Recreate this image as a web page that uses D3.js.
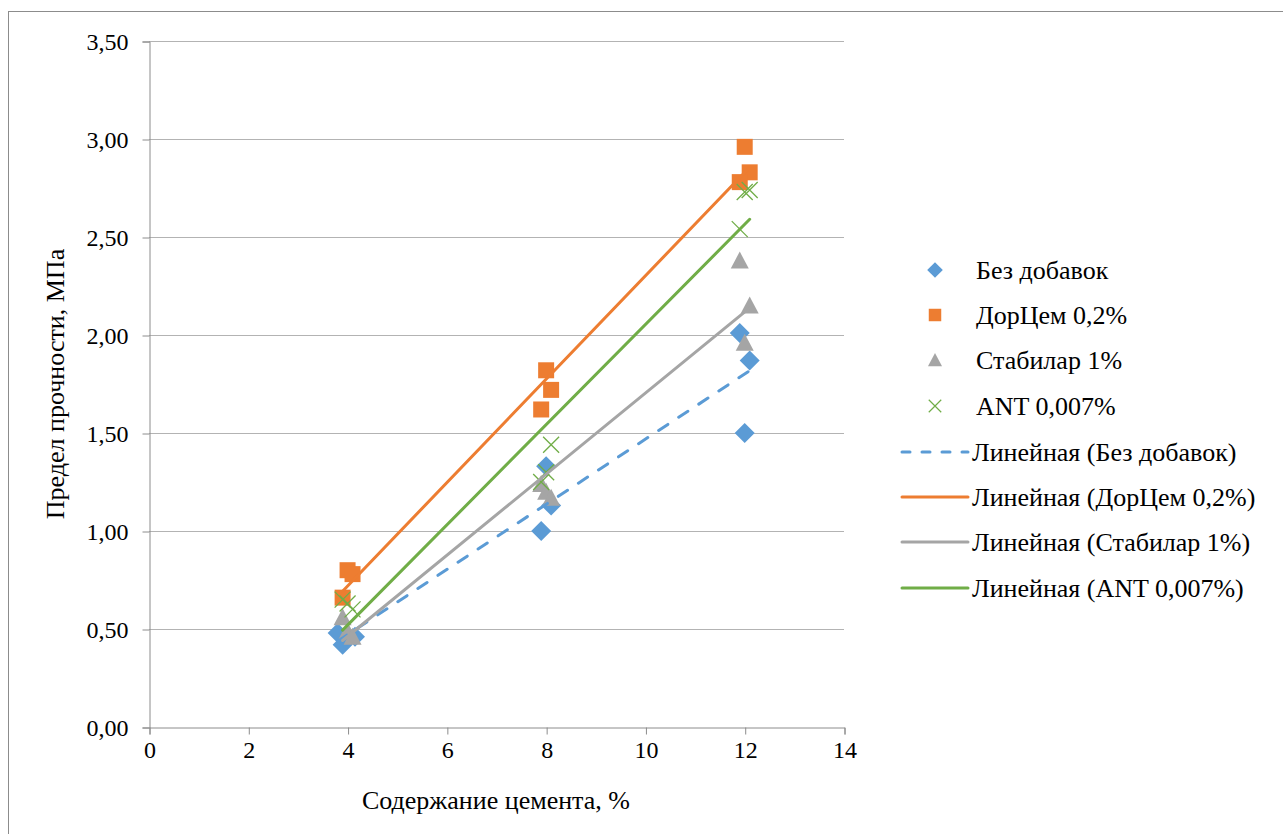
<!DOCTYPE html>
<html>
<head>
<meta charset="utf-8">
<script src="https://cdn.jsdelivr.net/npm/d3@7"></script>
<style>
body { margin: 0; background: #fff; }
svg text { font-family: "Liberation Serif", "Times New Roman", "DejaVu Serif", serif; }
</style>
</head>
<body>
<div id="chart"></div>
<script>
const seriesNames = ['Без добавок', 'ДорЦем 0,2%', 'Стабилар 1%', 'ANT 0,007%']
const seriesColors = ['#5b9bd5', '#ed7d31', '#a5a5a5', '#70ad47']
const seriesSymbols = ['diamond', 'square', 'triangle', 'cross']

const xBez = [3.8, 3.9, 4.15, 8.0, 8.1, 7.9, 11.9, 12.1, 12.0]
const yBez = [0.48, 0.42, 0.46, 1.33, 1.13, 1.00, 2.01, 1.87, 1.50]
const xDor = [3.9, 4.0, 4.1, 8.0, 8.1, 7.9, 12.0, 12.1, 11.9]
const yDor = [0.66, 0.80, 0.78, 1.82, 1.72, 1.62, 2.96, 2.83, 2.78]
const xStab = [3.9, 4.0, 4.1, 7.9, 8.0, 8.1, 11.9, 12.1, 12.0]
const yStab = [0.56, 0.49, 0.46, 1.24, 1.20, 1.17, 2.38, 2.15, 1.96]
const xAnt = [3.9, 4.0, 4.1, 8.1, 7.9, 8.0, 11.9, 12.0, 12.1]
const yAnt = [0.65, 0.63, 0.60, 1.44, 1.25, 1.30, 2.54, 2.73, 2.74]

const xTicks = [0, 2, 4, 6, 8, 10, 12, 14]
const yTicks = [0, 0.5, 1, 1.5, 2, 2.5, 3, 3.5]

const series = [[xBez, yBez], [xDor, yDor], [xStab, yStab], [xAnt, yAnt]].map((s, i) => ({
    name: seriesNames[i], color: seriesColors[i], symbol: seriesSymbols[i],
    points: s[0].map((x, j) => ({ x: x, y: s[1][j] }))
}))

const width = 1283
const height = 834
const dim = { left: 149, right: 844, top: 41, bottom: 727 }
const tickFont = '24px'
const labelFont = '26px'

const svg = d3.select('#chart').append('svg')
    .attr('width', width).attr('height', height)

svg.append('rect')
    .attr('x', 8.5).attr('y', 11.5)
    .attr('width', 1300).attr('height', 900)
    .attr('fill', 'none').attr('stroke', '#8c8c8c').attr('stroke-width', 1)

const x = d3.scaleLinear().domain([0, 14]).range([dim.left, dim.right])
const y = d3.scaleLinear().domain([0, 3.5]).range([dim.bottom, dim.top])
const fmt = v => d3.format('.2f')(v).replace('.', ',')

// grid
svg.append('g').selectAll('line')
    .data(yTicks.filter(d => d > 0))
    .join('line')
    .attr('x1', dim.left).attr('x2', dim.right)
    .attr('y1', d => Math.round(y(d)) + 0.5).attr('y2', d => Math.round(y(d)) + 0.5)
    .attr('stroke', '#b3b3b3').attr('stroke-width', 1)

const yAxis = svg.append('g')
    .attr('transform', `translate(${dim.left + 0.5},0.5)`)
    .call(d3.axisLeft(y).tickValues(yTicks).tickFormat(fmt).tickSize(7).tickPadding(14))
const xAxis = svg.append('g')
    .attr('transform', `translate(0.5,${dim.bottom + 0.5})`)
    .call(d3.axisBottom(x).tickValues(xTicks).tickFormat(d => d).tickSize(7).tickPadding(6))
for (const ax of [xAxis, yAxis]) {
    ax.attr('font-family', null).attr('font-size', null)
    ax.select('.domain').attr('stroke', '#8c8c8c')
    ax.selectAll('.tick line').attr('stroke', '#8c8c8c')
    ax.selectAll('.tick text')
        .attr('fill', '#000')
        .style('font-size', tickFont)
}

svg.append('text')
    .attr('x', 496).attr('y', 809)
    .attr('text-anchor', 'middle')
    .style('font-size', labelFont)
    .text('Содержание цемента, %')
svg.append('text')
    .attr('transform', 'translate(64,384) rotate(-90)')
    .attr('text-anchor', 'middle')
    .style('font-size', labelFont)
    .text('Предел прочности, МПа')

function symbolPath(type) {
    if (type == 'diamond') return 'M0,-10L10,0L0,10L-10,0Z'
    if (type == 'square') return 'M-8,-8H8V8H-8Z'
    if (type == 'triangle') return 'M0,-9L9,8H-9Z'
    return 'M-8,-8L8,8M8,-8L-8,8'
}

// markers
series.forEach(s => {
    svg.append('g').selectAll('path')
        .data(s.points)
        .join('path')
        .attr('transform', d => `translate(${x(d.x)},${y(d.y)})`)
        .attr('d', symbolPath(s.symbol))
        .attr('fill', s.symbol == 'cross' ? 'none' : s.color)
        .attr('stroke', s.symbol == 'cross' ? s.color : 'none')
        .attr('stroke-width', 1.3)
})

// linear trendlines (least squares)
function fit(points) {
    const mx = d3.mean(points, d => d.x)
    const my = d3.mean(points, d => d.y)
    const b = d3.sum(points, d => (d.x - mx) * (d.y - my)) / d3.sum(points, d => (d.x - mx) ** 2)
    const a = my - b * mx
    const ext = d3.extent(points, d => d.x)
    return ext.map(v => ({ x: v, y: a + b * v }))
}
const line = d3.line().x(d => x(d.x)).y(d => y(d.y))
series.forEach((s, i) => {
    svg.append('path')
        .datum(fit(s.points))
        .attr('d', line)
        .attr('fill', 'none')
        .attr('stroke', s.color)
        .attr('stroke-width', 3)
        .attr('stroke-linecap', 'round')
        .attr('stroke-dasharray', i == 0 ? '11,13' : null)
})

// legend
const legendY = [270, 315, 360, 406, 452, 497, 542, 588]
const legend = svg.append('g')
series.forEach((s, i) => {
    legend.append('path')
        .attr('transform', `translate(935,${legendY[i]}) scale(0.78)`)
        .attr('d', symbolPath(s.symbol))
        .attr('fill', s.symbol == 'cross' ? 'none' : s.color)
        .attr('stroke', s.symbol == 'cross' ? s.color : 'none')
        .attr('stroke-width', 1.5)
    legend.append('text')
        .attr('x', 976).attr('y', legendY[i] + 9)
        .style('font-size', labelFont)
        .text(s.name)
})
series.forEach((s, i) => {
    const ly = legendY[i + 4]
    legend.append('line')
        .attr('x1', 902).attr('x2', 968)
        .attr('y1', ly).attr('y2', ly)
        .attr('stroke', s.color).attr('stroke-width', 3)
        .attr('stroke-linecap', 'round')
        .attr('stroke-dasharray', i == 0 ? '8,12' : null)
    legend.append('text')
        .attr('x', 972).attr('y', ly + 9)
        .style('font-size', labelFont)
        .text('Линейная (' + s.name + ')')
})
</script>
</body>
</html>
